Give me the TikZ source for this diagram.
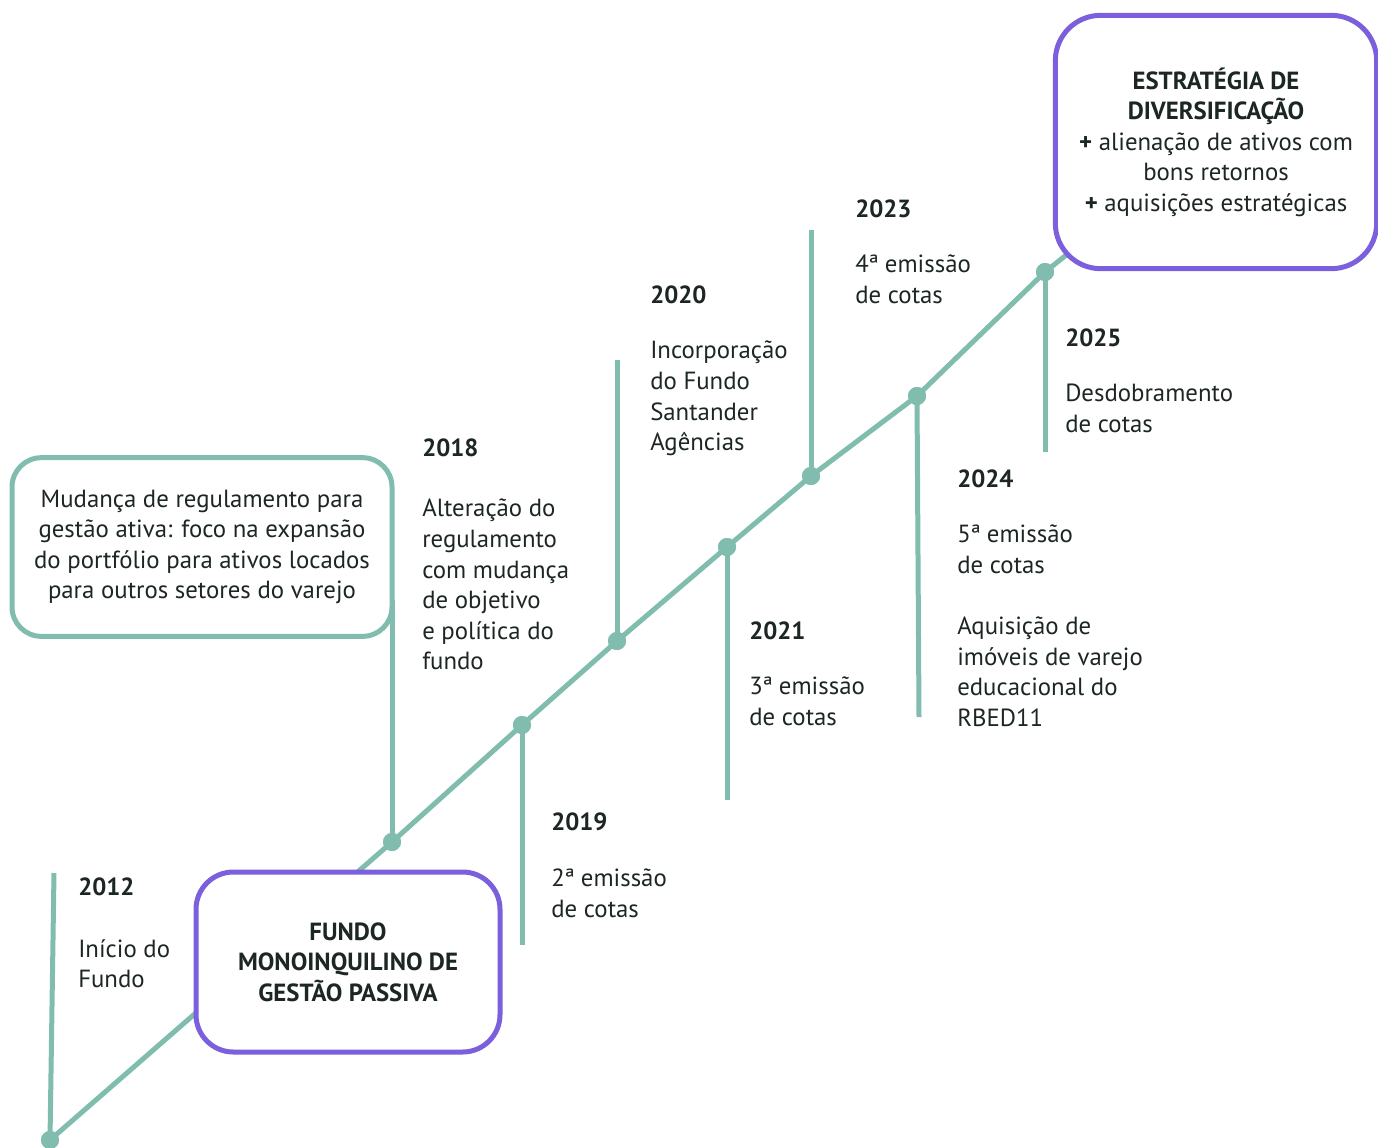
\documentclass[tikz,border=0pt]{standalone}
\usepackage{fontspec}
\setmainfont{PT Sans}
\usepackage{xcolor}
\usetikzlibrary{positioning}
\definecolor{mgreen}{HTML}{80BDAF}
\definecolor{mpurple}{HTML}{7B5FDC}
\definecolor{mtext}{HTML}{1C2622}
\tikzstyle{l1}=[line width=3.75pt, color=mgreen]
\tikzstyle{mdot}=[circle, fill=mgreen, minimum size=13.5pt, inner sep=0pt]
\tikzstyle{txt}=[anchor=north west, align=left, inner sep=0pt, text=mtext, font=\fontsize{18.6}{22.9}\selectfont]
\tikzstyle{yr}=[txt, font=\fontsize{18.6}{22.9}\selectfont\bfseries]
\tikzstyle{gbox}=[draw=mgreen, line width=3.75pt, rounded corners=22pt, fill=white, align=center, text=mtext, font=\fontsize{18.6}{22.9}\selectfont, inner sep=0pt]
\tikzstyle{pbox}=[gbox, draw=mpurple, rounded corners=28pt]

\begin{document}
\begin{tikzpicture}[x=0.75pt,y=-0.75pt]
    \useasboundingbox (0,0) rectangle (1378,1147);

    % points on the time line
    \node[mdot] (d2012) at (50, 1140) {};
    \node[mdot] (d2018) at (392, 842) {};
    \node[mdot] (d2019) at (522, 725) {};
    \node[mdot] (d2020) at (617, 641) {};
    \node[mdot] (d2021) at (727, 547) {};
    \node[mdot] (d2023) at (811, 476) {};
    \node[mdot] (d2024) at (917, 396) {};
    \node[mdot] (d2025) at (1045, 272) {};
    \coordinate (tend) at (1075, 248);

    % ends of the stems
    \coordinate (s2012) at (54, 873);
    \coordinate (s2018) at (392, 600);
    \coordinate (s2019) at (522, 945);
    \coordinate (s2020) at (617, 360);
    \coordinate (s2021) at (727, 800);
    \coordinate (s2023) at (811, 230);
    \coordinate (s2024) at (919, 717);
    \coordinate (s2025) at (1045, 452);

    \draw[l1] (d2012.center) -- (d2018.center) -- (d2019.center) -- (d2020.center) -- (d2021.center)
        -- (d2023.center) -- (d2024.center) -- (d2025.center) -- (tend);
    \draw[l1] (d2012.center) -- (s2012);
    \draw[l1] (d2018.center) -- (s2018);
    \draw[l1] (d2019.center) -- (s2019);
    \draw[l1] (d2020.center) -- (s2020);
    \draw[l1] (d2021.center) -- (s2021);
    \draw[l1] (d2023.center) -- (s2023);
    \draw[l1] (d2024.center) -- (s2024);
    \draw[l1] (d2025.center) -- (s2025);
    \foreach \d in {d2012,d2018,d2019,d2020,d2021,d2023,d2024,d2025}
        \node[mdot] at (\d) {};

    % boxes
    \node[gbox, minimum width=285pt, minimum height=134pt] (regul) at (202, 547)
        {Mudança de regulamento para\\gestão ativa: foco na expansão\\do portfólio para ativos locados\\para outros setores do varejo};
    \node[pbox, minimum width=228pt, minimum height=135pt, font=\fontsize{18.6}{22.9}\selectfont\bfseries] (mono) at (348, 962)
        {FUNDO\\MONOINQUILINO DE\\GESTÃO PASSIVA};
    \node[pbox, minimum width=241pt, minimum height=190pt, rounded corners=34pt] (divers) at (1216, 142)
        {\textbf{ESTRATÉGIA DE}\\\textbf{DIVERSIFICAÇÃO}\\\textbf{+} alienação de ativos com\\bons retornos\\\textbf{+} aquisições estratégicas};

    % years and events
    \node[yr] (y2012) at (78, 878) {2012};
    \node[txt] (t2012) at (78, 939) {Início do\\Fundo};
    \node[yr] (y2018) at (422, 439) {2018};
    \node[txt] (t2018) at (422, 499) {Alteração do\\regulamento\\com mudança\\de objetivo\\e política do\\fundo};
    \node[yr] (y2019) at (551, 813) {2019};
    \node[txt] (t2019) at (551, 869) {2ª emissão\\de cotas};
    \node[yr] (y2020) at (650, 286) {2020};
    \node[txt] (t2020) at (650, 341) {Incorporação\\do Fundo\\Santander\\Agências};
    \node[yr] (y2021) at (749, 622) {2021};
    \node[txt] (t2021) at (749, 677) {3ª emissão\\de cotas};
    \node[yr] (y2023) at (855, 200) {2023};
    \node[txt] (t2023) at (855, 255) {4ª emissão\\de cotas};
    \node[yr] (y2024) at (957, 470) {2024};
    \node[txt] (t2024) at (957, 525) {5ª emissão\\de cotas\\[22.9pt]Aquisição de\\imóveis de varejo\\educacional do\\RBED11};
    \node[yr] (y2025) at (1065, 329) {2025};
    \node[txt] (t2025) at (1065, 384) {Desdobramento\\de cotas};
\end{tikzpicture}
\end{document}
